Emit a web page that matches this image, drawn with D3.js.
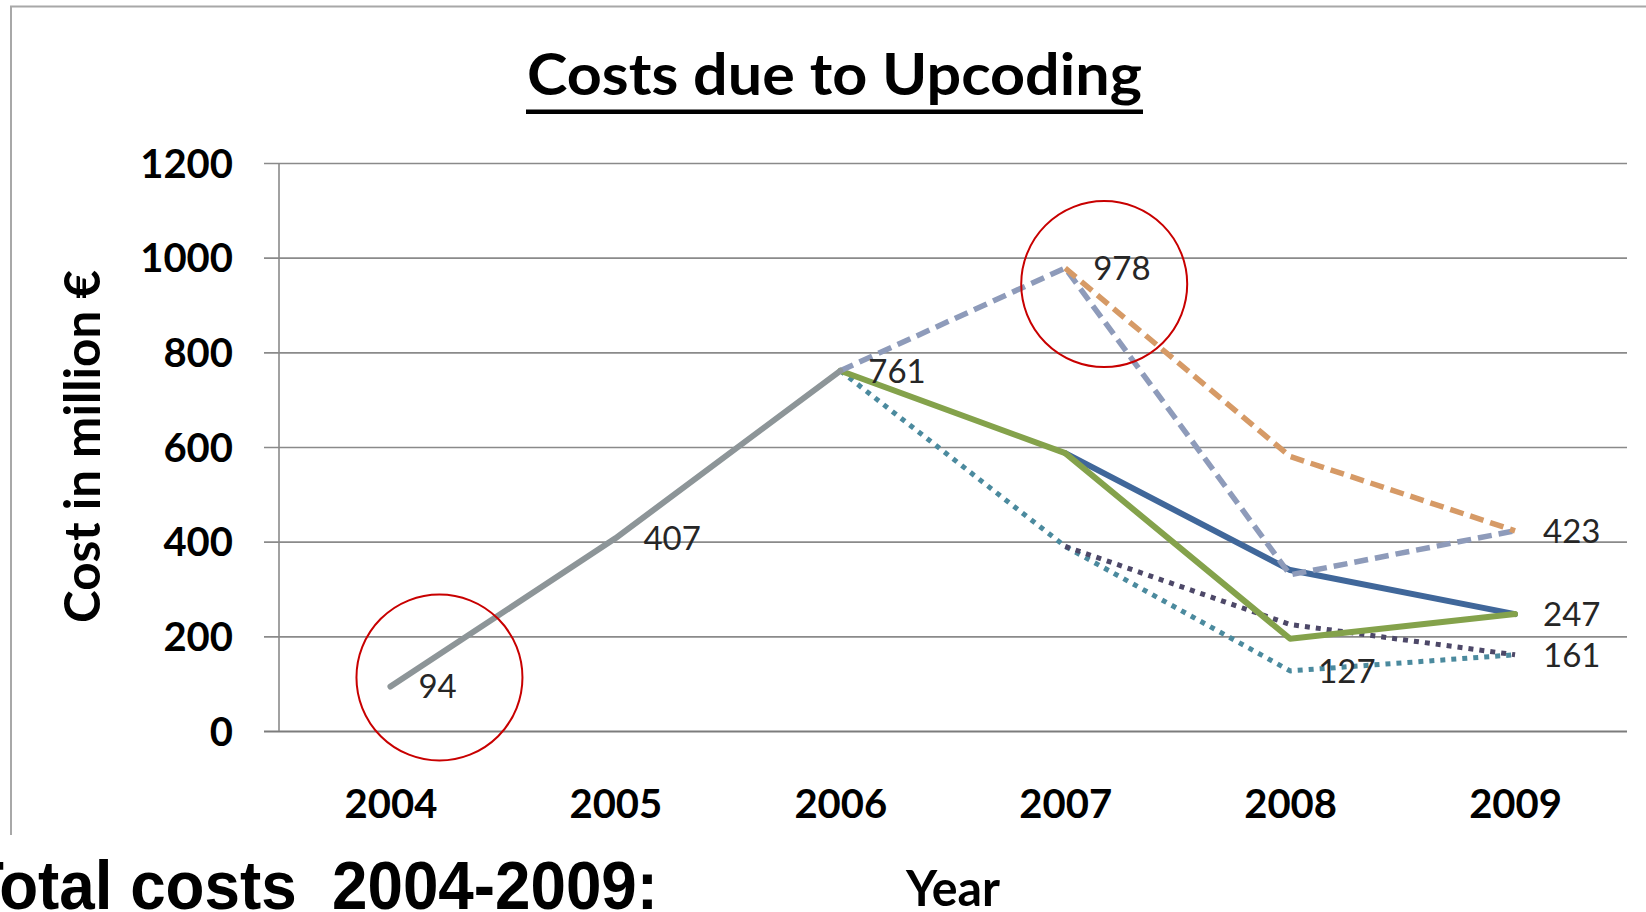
<!DOCTYPE html>
<html>
<head>
<meta charset="utf-8">
<script src="https://cdn.jsdelivr.net/npm/d3@7"></script>
<style>
  html, body { margin: 0; padding: 0; background: #fff; }
  svg { display: block; }
</style>
</head>
<body>
<svg id="chart" width="1646" height="912"></svg>
<script>
// ---------- data ----------
const years = ["2004", "2005", "2006", "2007", "2008", "2009"];
const yTicks = [0, 200, 400, 600, 800, 1000, 1200];

const trunk      = [94, 407, 761, null, null, null];
const lavender   = [null, null, 761, 978, 330, 423];
const orange     = [null, null, null, 978, 580, 423];
const blue       = [null, null, null, 587, 340, 247];
const green      = [null, null, 761, 587, 195, 247];
const tealDots   = [null, null, 761, 390, 127, 161];
const darkDots   = [null, null, null, 390, 225, 161];

const labelYears  = ["2004", "2005", "2006", "2007", "2008", "2009", "2009", "2009"];
const labelValues = [94, 407, 761, 978, 127, 423, 247, 161];

const titleText = "Costs due to Upcoding";
const yTitle = "Cost in million €";
const xTitle = "Year";
const footText = "Total costs  2004-2009:";

// ---------- layout ----------
const svg = d3.select("#chart");
const plotLeft = 279, plotRight = 1627, plotTop = 163, plotBottom = 731;

const x = d3.scalePoint().domain(years).range([278, 1627.5]).padding(0.5);
const y = d3.scaleLinear().domain([0, 1200]).range([plotBottom, plotTop]);

svg.append("rect").attr("width", 1646).attr("height", 912).attr("fill", "#fff");

// outer chart frame (left + top only visible)
svg.append("path")
  .attr("d", "M11,835 L11,6.5 L1646,6.5")
  .attr("fill", "none").attr("stroke", "#a8a8a8").attr("stroke-width", 2);

// title
svg.append("text")
  .attr("x", 527).attr("y", 95)
  .attr("font-family", "Lato, 'Open Sans', sans-serif")
  .attr("font-weight", "bold").attr("font-size", 57)
  .attr("fill", "#000")
  .attr("textLength", 615).attr("lengthAdjust", "spacingAndGlyphs")
  .text(titleText);
svg.append("rect").attr("x", 526).attr("y", 109.5).attr("width", 617).attr("height", 4.5).attr("fill", "#000");

// y axis with gridlines
const yAxis = d3.axisLeft(y).tickValues(yTicks).tickFormat(d3.format("d"))
  .tickSizeInner(-(plotRight - 264)).tickSizeOuter(0).tickPadding(31);
const gy = svg.append("g").attr("transform", "translate(264,0)").call(yAxis);
gy.select(".domain").remove();
gy.selectAll(".tick line").attr("stroke", "#8a8a8a").attr("stroke-width", 1.6);
gy.selectAll(".tick text")
  .attr("font-family", "Lato, 'Open Sans', sans-serif")
  .attr("font-weight", "bold").attr("font-size", 40).attr("fill", "#000")
  .attr("dy", "0.35em");
gy.selectAll(".tick").filter(d => d === 0).select("line").attr("stroke", "#7c7c7c").attr("stroke-width", 2.2);

// y axis vertical line
svg.append("line")
  .attr("x1", plotLeft).attr("x2", plotLeft)
  .attr("y1", plotTop).attr("y2", plotBottom)
  .attr("stroke", "#8a8a8a").attr("stroke-width", 1.6);

// x axis labels
const xAxis = d3.axisBottom(x).tickSize(0).tickPadding(0);
const gx = svg.append("g").attr("transform", `translate(0,${plotBottom})`).call(xAxis);
gx.select(".domain").remove();
gx.selectAll(".tick text")
  .attr("font-family", "Lato, 'Open Sans', sans-serif")
  .attr("font-weight", "bold").attr("font-size", 40).attr("fill", "#000")
  .attr("y", 87).attr("dy", 0);

// axis titles
svg.append("text")
  .attr("transform", `translate(100,${(270 + 623) / 2}) rotate(-90)`)
  .attr("text-anchor", "middle")
  .attr("font-family", "Lato, 'Open Sans', sans-serif")
  .attr("font-weight", "bold").attr("font-size", 50).attr("fill", "#000")
  .attr("textLength", 353).attr("lengthAdjust", "spacingAndGlyphs")
  .text(yTitle);

svg.append("text")
  .attr("x", (plotLeft + plotRight) / 2).attr("y", 906)
  .attr("text-anchor", "middle")
  .attr("font-family", "Lato, 'Open Sans', sans-serif")
  .attr("font-weight", "bold").attr("font-size", 49).attr("fill", "#000")
  .attr("textLength", 94).attr("lengthAdjust", "spacingAndGlyphs")
  .text(xTitle);

// ---------- series ----------
const line = d3.line()
  .defined(d => d.v !== null)
  .x(d => x(d.year))
  .y(d => y(d.v));

function draw(values, color, width, dash, cap) {
  const pts = years.map((yr, i) => ({ year: yr, v: values[i] }));
  svg.append("path")
    .datum(pts)
    .attr("d", line)
    .attr("fill", "none")
    .attr("stroke", color)
    .attr("stroke-width", width)
    .attr("stroke-linejoin", "round")
    .attr("stroke-linecap", cap || "butt")
    .attr("stroke-dasharray", dash || null);
}

draw(tealDots, "#4b8a9e", 5, "5,6");
draw(darkDots, "#4d4868", 5, "5,6");
draw(blue, "#40679a", 6, null, "round");
draw(green, "#84a24b", 6, null, "round");
draw(lavender, "#8e9bba", 5.5, "14,7");
draw(orange, "#d69a66", 5.5, "14,7");
draw(trunk, "#8d9598", 6, null, "round");

// data labels
labelYears.forEach((yr, i) => {
  const v = labelValues[i];
  svg.append("text")
    .attr("x", x(yr) + 28).attr("y", y(v))
    .attr("dy", "0.36em")
    .attr("font-family", "Lato, 'Open Sans', sans-serif")
    .attr("font-size", 33).attr("fill", "#262626")
    .text(v);
});

// red annotation circles around 94 (2004) and 978 (2007)
svg.append("circle")
  .attr("cx", x("2004") + 49).attr("cy", y(94) - 9).attr("r", 83)
  .attr("fill", "none").attr("stroke", "#c80000").attr("stroke-width", 2);
svg.append("circle")
  .attr("cx", x("2007") + 39).attr("cy", y(978) + 16).attr("r", 83)
  .attr("fill", "none").attr("stroke", "#c80000").attr("stroke-width", 2);

// footer text (slide overlay)
svg.append("rect").attr("x", 0).attr("y", 836).attr("width", 700).attr("height", 76).attr("fill", "#fff");
svg.append("text")
  .attr("x", -35).attr("y", 909)
  .attr("font-family", "'Liberation Sans', Arial, sans-serif")
  .attr("font-weight", "bold").attr("font-size", 68).attr("fill", "#000")
  .attr("textLength", 693).attr("lengthAdjust", "spacingAndGlyphs")
  .attr("xml:space", "preserve").style("white-space", "pre")
  .text(footText);
</script>
</body>
</html>
